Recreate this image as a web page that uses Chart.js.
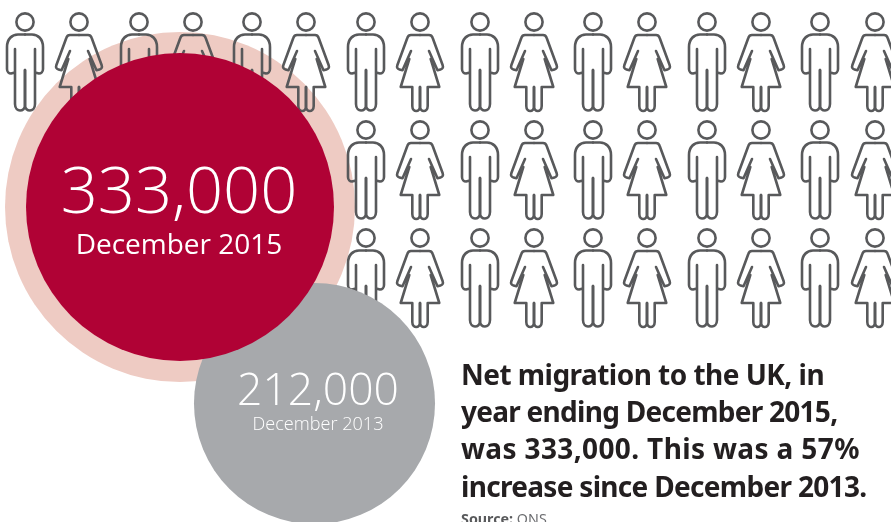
<!DOCTYPE html>
<html>
<head>
<meta charset="utf-8">
<title>Net migration to the UK</title>
<script src="https://cdn.jsdelivr.net/npm/chart.js@4"></script>
<style>
    html, body { margin: 0; padding: 0; background: #fff; overflow: hidden; }
    #wrap { position: relative; width: 891px; height: 522px; overflow: hidden; }
    #plot { position: absolute; left: 0; top: 0; }
    #headline {
        position: absolute; left: 461px; top: 355.5px; width: 430px;
        font: 700 28px/37.4px "Noto Sans", sans-serif; color: #231f20; white-space: nowrap;
    }
    #source {
        position: absolute; left: 461px; top: 510px;
        font: 400 14.3px/18px "Noto Sans", sans-serif; color: #6d6e71;
    }
    #source b { font-weight: 700; color: #58595b; }
</style>
</head>
<body>
<div id="wrap">
    <canvas id="plot" width="891" height="522"></canvas>
    <div id="headline"><span style="letter-spacing:-.53px">Net migration to the UK, in</span><br><span style="letter-spacing:-.73px">year ending December 2015,</span><br><span style="letter-spacing:.37px">was 333,000. This was a 57%</span><br><span style="letter-spacing:-.69px">increase since December 2013.</span></div>
    <div id="source"><b>Source:</b> ONS</div>
</div>
<script>
var periods = ["December 2015", "December 2013"];
var migration = [333000, 212000];
var circleX = [180, 314.5];
var circleY = [207, 403.5];

// figures stand in three rows, the lower two begin further right
var rowY = [65, 173, 281];
var menTop = [25, 139, 252, 366, 480, 593, 707, 820];
var womenTop = [79, 193, 306, 420, 534, 647, 761, 875];
var menLower = [366, 480, 593, 707, 820];
var womenLower = [420, 534, 647, 761, 875];

function bubbleRadius(v) {
    return 154 * Math.pow(v / migration[0], 0.543);
}

function figureCanvas(draw) {
    var c = document.createElement("canvas");
    c.width = 50;
    c.height = 110;
    var ctx = c.getContext("2d");
    ctx.translate(25, 12);  // origin at the centre of the head
    ctx.strokeStyle = "#58595b";
    ctx.lineWidth = 2.6;
    ctx.lineJoin = "round";
    ctx.lineCap = "round";
    ctx.beginPath();
    ctx.arc(0, 0, 8.6, 0, Math.PI * 2);
    ctx.stroke();
    // both sides are mirror images
    [1, -1].forEach(function(side) {
        ctx.save();
        ctx.scale(side, 1);
        ctx.beginPath();
        draw(ctx);
        ctx.stroke();
        ctx.restore();
    });
    return c;
}

var manIcon = figureCanvas(function(ctx) {
    ctx.moveTo(0, 12.5);
    ctx.lineTo(7, 12.5);
    ctx.bezierCurveTo(13, 12.5, 18, 17, 18, 25);
    ctx.lineTo(18, 47);
    ctx.bezierCurveTo(18, 50, 16, 51.5, 14, 51.5);
    ctx.lineTo(10, 50.5);
    ctx.moveTo(10, 27);
    ctx.lineTo(10, 82);
    ctx.bezierCurveTo(10, 87, 7, 88.5, 5, 88.5);
    ctx.bezierCurveTo(2.5, 88.5, 0, 87, 0, 83);
    ctx.lineTo(0, 48);
});

var womanIcon = figureCanvas(function(ctx) {
    ctx.moveTo(0, 13);
    ctx.lineTo(9, 13);
    ctx.bezierCurveTo(11, 13, 12, 14, 12.5, 15.5);
    ctx.lineTo(22.6, 43);
    ctx.bezierCurveTo(23.5, 45.5, 22.5, 47, 20.5, 47.5);
    ctx.lineTo(17.5, 48.3);
    ctx.lineTo(9, 29);
    ctx.moveTo(10.7, 37);
    ctx.lineTo(19.3, 65);
    ctx.lineTo(7.7, 65);
    ctx.lineTo(7.7, 84);
    ctx.bezierCurveTo(7.7, 87.5, 5.5, 89, 3.8, 89);
    ctx.bezierCurveTo(2, 89, 0, 87.5, 0, 84);
    ctx.lineTo(0, 65);
});

function placed(xs, ys) {
    var points = [];
    ys.forEach(function(y) {
        xs.forEach(function(x) {
            points.push({x: x, y: y});
        });
    });
    return points;
}

function figureSet(icon, top, lower) {
    return {
        type: "scatter",
        data: placed(top, rowY.slice(0, 1)).concat(placed(lower, rowY.slice(1))),
        pointStyle: icon,
        pointRadius: 25,
        showLine: false,
        order: 3,
    };
}

function circleSet(i, radius, color, order) {
    return {
        type: "bubble",
        data: [{x: circleX[i], y: circleY[i], r: radius}],
        backgroundColor: color,
        borderWidth: 0,
        order: order,
    };
}

// values and dates written over the circles
var circleLabels = {
    id: "circleLabels",
    afterDatasetsDraw: function(chart) {
        var ctx = chart.ctx;
        var sx = chart.scales.x;
        var sy = chart.scales.y;
        var styles = [
            {big: '300 65px "Open Sans"', small: '400 28px "Open Sans"', bigY: 213, smallY: 254},
            {big: '300 44.5px "Open Sans"', small: '300 18.1px "Open Sans"', bigY: 405, smallY: 430},
        ];
        ctx.save();
        ctx.textAlign = "center";
        ctx.textBaseline = "alphabetic";
        ctx.fillStyle = "#fff";
        migration.forEach(function(v, i) {
            var s = styles[i];
            var x = sx.getPixelForValue(circleX[i]) - (i == 0 ? 1 : -3.5);
            ctx.font = s.big;
            ctx.fillText(v.toLocaleString("en-GB"), x, sy.getPixelForValue(s.bigY));
            ctx.font = s.small;
            ctx.fillText(periods[i], x, sy.getPixelForValue(s.smallY));
        });
        ctx.restore();
    }
};

window.addEventListener("load", function() {
    new Chart(document.getElementById("plot"), {
        data: {
            datasets: [
                // the pale ring sits behind the figures, the circles in front of them
                circleSet(0, bubbleRadius(migration[0]) + 21, "#eecbc3", 4),
                figureSet(manIcon, menTop, menLower),
                figureSet(womanIcon, womenTop, womenLower),
                circleSet(1, bubbleRadius(migration[1]), "#a7a9ac", 2),
                circleSet(0, bubbleRadius(migration[0]), "#b00235", 1),
            ]
        },
        options: {
            responsive: false,
            animation: false,
            layout: {padding: 0, autoPadding: false},
            clip: false,
            scales: {
                x: {type: "linear", display: false, min: 0, max: 891},
                y: {type: "linear", display: false, min: 0, max: 522, reverse: true},
            },
            plugins: {
                legend: {display: false},
                tooltip: {enabled: false},
            }
        },
        plugins: [circleLabels],
    });
});
</script>
</body>
</html>
